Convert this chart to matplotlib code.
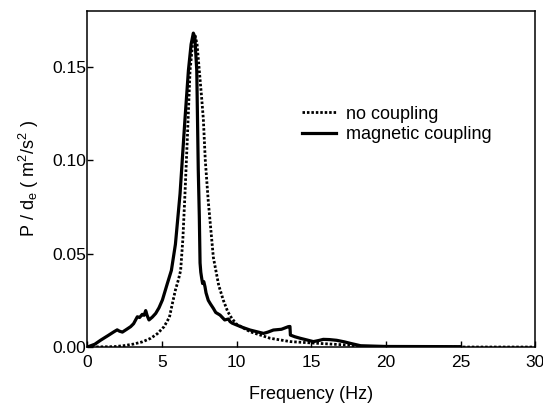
import matplotlib
matplotlib.use("Agg")
import matplotlib.pyplot as plt

plt.rcParams['font.family'] = ['Liberation Sans', 'DejaVu Sans']
plt.rcParams['mathtext.default'] = 'regular'

# No coupling (dotted)
f_none = [0, 1.0, 1.8, 2.5, 3.1, 3.7, 4.25, 4.7, 5.14, 5.5, 5.7, 5.9, 6.1, 6.25, 6.4, 6.54, 6.7, 6.88, 7.05, 7.21, 7.35, 7.5,
          7.65, 7.77, 7.9, 8.1, 8.44, 8.8, 9.11, 9.4, 9.67, 10.0, 10.9, 12.24, 13.6, 15.4, 17.6, 18.3, 20, 25, 30]
p_none = [0, 0.0001, 0.0002, 0.0008, 0.0016, 0.0028, 0.0047, 0.0072, 0.0109, 0.016, 0.0234, 0.0305, 0.036, 0.041, 0.058, 0.082, 0.112, 0.148, 0.162, 0.167, 0.162, 0.148,
          0.134, 0.122, 0.100, 0.078, 0.048, 0.033, 0.025, 0.019, 0.0154, 0.0122, 0.0082, 0.0047, 0.0029, 0.002, 0.001, 0.0003, 0.0001, 0, 0]

# Magnetic coupling (solid)
f_mag = [0, 0.5, 0.9, 1.4, 1.79, 2.0, 2.15, 2.35, 2.6, 2.9, 3.1, 3.35, 3.5, 3.68, 3.8, 3.91, 4.0, 4.13, 4.35, 4.58, 4.8, 5.03, 5.36, 5.63,
         5.9, 6.21, 6.54, 6.77, 6.95, 7.1, 7.2, 7.33, 7.43, 7.5, 7.55, 7.6, 7.66, 7.72, 7.8, 7.88, 7.95, 8.1, 8.25, 8.44, 8.6, 8.89, 9.2, 9.45, 9.56, 9.7, 10.0,
         10.4, 10.9, 11.35, 11.8, 12.1, 12.46, 13.0, 13.46, 13.57, 13.6, 13.9, 14.25, 14.7, 15.14, 15.5, 15.8, 16.2, 16.7, 17.2, 17.6, 18.3, 20, 25]
p_mag = [0, 0.0015, 0.0037, 0.0062, 0.0082, 0.0092, 0.0085, 0.0080, 0.0093, 0.0109, 0.0125, 0.0162, 0.0158, 0.0175, 0.0170, 0.0195, 0.0170, 0.0145, 0.0160, 0.018, 0.021, 0.0252, 0.034, 0.041,
         0.055, 0.082, 0.122, 0.148, 0.162, 0.168, 0.166, 0.148, 0.095, 0.070, 0.045, 0.040, 0.0368, 0.034, 0.035, 0.0323, 0.029, 0.025, 0.023, 0.0207, 0.0185, 0.0171, 0.0145, 0.0150, 0.0136, 0.0128, 0.0118,
         0.0105, 0.0091, 0.0082, 0.0073, 0.0080, 0.0091, 0.0095, 0.0109, 0.011, 0.0064, 0.0055, 0.0047, 0.0038, 0.0029, 0.0035, 0.0041, 0.0040, 0.0036, 0.0028, 0.002, 0.0007, 0.0003, 0.0002]

xticks = [0, 5, 10, 15, 20, 25, 30]
yticks = [0.00, 0.05, 0.10, 0.15]
ytick_labels = ["0.00", "0.05", "0.10", "0.15"]

fig = plt.figure(figsize=(5.43, 4.04), dpi=100)
ax = fig.add_axes([0.1608, 0.141, 0.8250, 0.8325])

ax.plot(f_none, p_none, color='black', lw=2.0, linestyle=(0, (0.9, 0.7)), label='no coupling')
ax.plot(f_mag, p_mag, color='black', lw=2.3, label='magnetic coupling', solid_joinstyle='round')

ax.set_xlim(0, 30)
ax.set_ylim(0, 0.18)
ax.set_xticks(xticks)
ax.set_yticks(yticks)
ax.set_yticklabels(ytick_labels)
ax.tick_params(direction='in', length=4, width=1.0, labelsize=12.5)
ax.tick_params(axis='x', pad=6)
ax.tick_params(axis='y', pad=1)
for s in ax.spines.values():
    s.set_linewidth(1.1)

ax.set_xlabel('Frequency (Hz)', fontsize=13, labelpad=11.5)
ax.set_ylabel('P / d$_e$ ( m$^2$/s$^2$ )', fontsize=13, labelpad=8)

leg = ax.legend(loc='upper left', bbox_to_anchor=(0.48, 0.718), frameon=False, fontsize=13,
                handlelength=1.85, handletextpad=0.55, labelspacing=0.2, borderpad=0, borderaxespad=0)

fig.savefig('out.png', dpi=100)
